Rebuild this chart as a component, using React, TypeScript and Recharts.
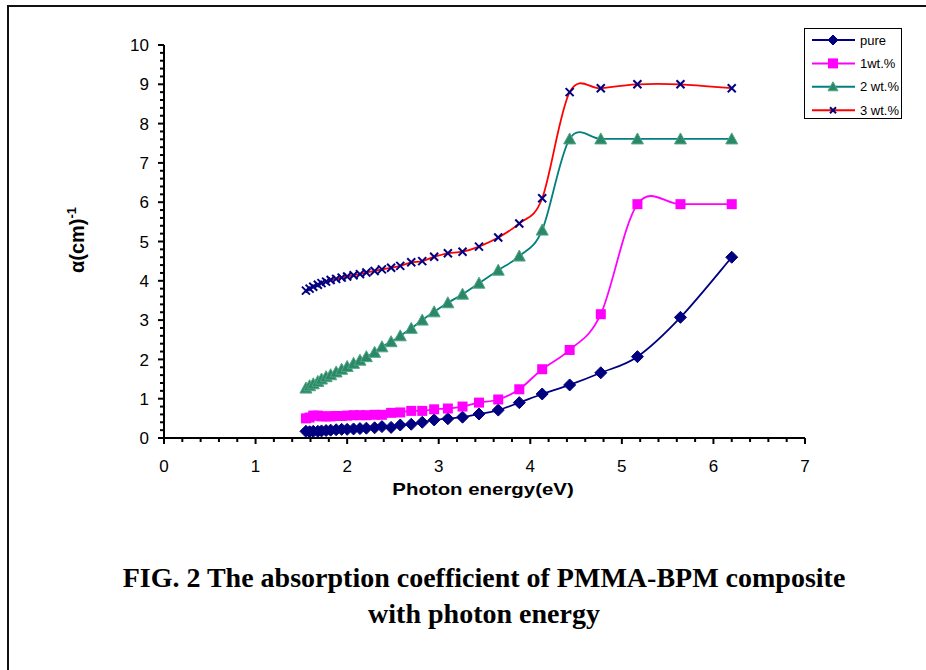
import React from "react";
import { LineChart, Line, XAxis, YAxis, Legend } from "recharts";

// photon energy (eV), one point per wavelength step
const energy = [
  1.55, 1.59, 1.63, 1.68, 1.72, 1.77, 1.82, 1.88, 1.94, 2.0, 2.07, 2.14, 2.21,
  2.3, 2.38, 2.48, 2.58, 2.7, 2.82, 2.95, 3.1, 3.26, 3.44, 3.65, 3.88, 4.13,
  4.43, 4.77, 5.17, 5.64, 6.2,
];

const pure = [
  0.17, 0.16, 0.17, 0.17, 0.18, 0.19, 0.2, 0.21, 0.22, 0.22, 0.23, 0.24, 0.25,
  0.26, 0.29, 0.27, 0.33, 0.35, 0.4, 0.46, 0.49, 0.53, 0.61, 0.71, 0.9, 1.12,
  1.35, 1.66, 2.07, 3.07, 4.6,
];

const wt1 = [
  0.5, 0.52, 0.57, 0.57, 0.55, 0.55, 0.55, 0.56, 0.56, 0.57, 0.58, 0.58, 0.58,
  0.59, 0.59, 0.64, 0.65, 0.69, 0.69, 0.73, 0.75, 0.8, 0.9, 0.98, 1.24, 1.75,
  2.24, 3.15, 5.95, 5.95, 5.95,
];

const wt2 = [
  1.27, 1.33, 1.38, 1.44, 1.5, 1.56, 1.61, 1.68, 1.75, 1.82, 1.9, 1.98, 2.07,
  2.18, 2.32, 2.45, 2.6, 2.79, 3.0, 3.21, 3.44, 3.66, 3.94, 4.27, 4.63, 5.29,
  7.61, 7.61, 7.61, 7.61, 7.61,
];

const wt3 = [
  3.75, 3.8, 3.85, 3.9, 3.94, 3.98, 4.02, 4.05, 4.08, 4.11, 4.14, 4.17, 4.21,
  4.25, 4.29, 4.33, 4.38, 4.47, 4.5, 4.61, 4.7, 4.74, 4.87, 5.1, 5.46, 6.1,
  8.8, 8.9, 9.0, 9.0, 8.9,
];

const seriesNames = ["pure", "1wt.%", "2 wt.%", "3 wt.%"];

const data = energy.map((e, i) => ({
  e,
  pure: pure[i],
  wt1: wt1[i],
  wt2: wt2[i],
  wt3: wt3[i],
}));

// major + minor tick positions (0.2 steps)
const xTicks = Array.from({ length: 36 }, (_, i) => Math.round(i * 2) / 10);
const yTicks = Array.from({ length: 51 }, (_, i) => Math.round(i * 2) / 10);

const FONT = "'Liberation Sans', Arial, sans-serif";
const NAVY = "#000080";
const MAGENTA = "#FF00FF";
const TEAL = "#008080";
const RED = "#FF0000";

// Excel-like smoothed line (cardinal bezier)
const smooth: any = (context: any) => {
  let pts: number[][] = [];
  return {
    areaStart() {},
    areaEnd() {},
    lineStart() {
      pts = [];
    },
    point(x: number, y: number) {
      pts.push([+x, +y]);
    },
    lineEnd() {
      if (!pts.length) return;
      context.moveTo(pts[0][0], pts[0][1]);
      for (let i = 0; i < pts.length - 1; i++) {
        const p0 = pts[i - 1] || pts[i];
        const p1 = pts[i];
        const p2 = pts[i + 1];
        const p3 = pts[i + 2] || p2;
        context.bezierCurveTo(
          p1[0] + (p2[0] - p0[0]) / 6,
          p1[1] + (p2[1] - p0[1]) / 6,
          p2[0] - (p3[0] - p1[0]) / 6,
          p2[1] - (p3[1] - p1[1]) / 6,
          p2[0],
          p2[1]
        );
      }
    },
  };
};

const Diamond = ({ cx, cy, r = 6 }: any) => (
  <polygon
    points={`${cx},${cy - r} ${cx + r},${cy} ${cx},${cy + r} ${cx - r},${cy}`}
    fill={NAVY}
    stroke={NAVY}
  />
);
const Square = ({ cx, cy, r = 5 }: any) => (
  <rect x={cx - r} y={cy - r} width={r * 2} height={r * 2} fill={MAGENTA} />
);
const Triangle = ({ cx, cy, r = 6 }: any) => (
  <polygon
    points={`${cx},${cy - r} ${cx + r},${cy + r - 1} ${cx - r},${cy + r - 1}`}
    fill="#2a8768"
    stroke="#4fa783"
    strokeWidth={1}
  />
);
const Cross = ({ cx, cy, r = 4 }: any) => (
  <g stroke={NAVY} strokeWidth={2}>
    <line x1={cx - r} y1={cy - r} x2={cx + r} y2={cy + r} />
    <line x1={cx - r} y1={cy + r} x2={cx + r} y2={cy - r} />
  </g>
);

const dotFn = (Shape: any) => (p: any) =>
  <Shape key={`d-${p.index}`} cx={p.cx} cy={p.cy} />;

const XTick = ({ x, y, payload }: any) => {
  const v = payload.value;
  const major = Math.abs(v - Math.round(v)) < 1e-6;
  return (
    <g>
      <line x1={x} y1={y} x2={x} y2={y + (major ? 6 : 4)} stroke="#000" strokeWidth={2} />
      {major && (
        <text x={x} y={y + 34} textAnchor="middle" fontSize={17} fontFamily={FONT} fill="#000">
          {Math.round(v)}
        </text>
      )}
    </g>
  );
};

const YTick = ({ x, y, payload }: any) => {
  const v = payload.value;
  const major = Math.abs(v - Math.round(v)) < 1e-6;
  return (
    <g>
      <line x1={x - (major ? 6 : 4)} y1={y} x2={x} y2={y} stroke="#000" strokeWidth={2} />
      {major && (
        <text x={x - 15} y={y} dy="0.36em" textAnchor="end" fontSize={17} fontFamily={FONT} fill="#000">
          {Math.round(v)}
        </text>
      )}
    </g>
  );
};

const legendShapes = [Diamond, Square, Triangle, Cross];
const legendColors = [NAVY, MAGENTA, TEAL, RED];

const renderLegend = () => (
  <div style={{ width: 98, height: 91, border: "1px solid #000", boxSizing: "border-box", background: "#fff" }}>
    <svg width={96} height={89}>
      {seriesNames.map((name, i) => {
        const cy = 11 + i * 23.4;
        const Shape = legendShapes[i];
        return (
          <g key={name}>
            <line x1={7} x2={50} y1={cy} y2={cy} stroke={legendColors[i]} strokeWidth={2} />
            <Shape cx={28} cy={cy} r={i === 3 ? 3 : 5} />
            <text x={55} y={cy} dy="0.36em" fontSize={13} fontFamily={FONT} fill="#000">
              {name}
            </text>
          </g>
        );
      })}
    </svg>
  </div>
);

export default function App() {
  return (
    <div
      style={{
        position: "absolute",
        left: 0,
        top: 0,
        width: 926,
        height: 670,
        overflow: "hidden",
        background: "#fff",
      }}
    >
      <div
        style={{
          position: "absolute",
          left: 7,
          top: 5,
          width: 1000,
          height: 1000,
          border: "2px solid #111",
        }}
      />
      <div style={{ position: "absolute", left: 0, top: 0 }}>
        <LineChart width={926} height={670} data={data} margin={{ top: 45, right: 121, bottom: 0, left: 0 }}>
          <XAxis
            dataKey="e"
            type="number"
            domain={[0, 7]}
            ticks={xTicks}
            interval={0}
            height={232}
            tickSize={0}
            tickMargin={0}
            tickLine={false}
            tick={<XTick />}
            axisLine={{ stroke: "#000", strokeWidth: 2 }}
          />
          <YAxis
            type="number"
            domain={[0, 10]}
            ticks={yTicks}
            interval={0}
            width={164}
            tickSize={0}
            tickMargin={0}
            tickLine={false}
            tick={<YTick />}
            axisLine={{ stroke: "#000", strokeWidth: 2 }}
          />
          <Legend
            layout="horizontal"
            verticalAlign="middle"
            align="center"
            content={renderLegend}
            wrapperStyle={{ left: 804, top: 28, width: 98, height: 91 }}
          />
          <Line dataKey="pure" type={smooth} stroke={NAVY} strokeWidth={1.8} dot={dotFn(Diamond)} activeDot={false} isAnimationActive={false} />
          <Line dataKey="wt1" type={smooth} stroke={MAGENTA} strokeWidth={1.8} dot={dotFn(Square)} activeDot={false} isAnimationActive={false} />
          <Line dataKey="wt2" type={smooth} stroke={TEAL} strokeWidth={1.8} dot={dotFn(Triangle)} activeDot={false} isAnimationActive={false} />
          <Line dataKey="wt3" type={smooth} stroke={RED} strokeWidth={1.8} dot={dotFn(Cross)} activeDot={false} isAnimationActive={false} />
        </LineChart>
      </div>
      <div
        style={{
          position: "absolute",
          left: 77,
          top: 240,
          transform: "translate(-50%, -50%) rotate(-90deg)",
          whiteSpace: "nowrap",
          fontFamily: FONT,
          fontWeight: "bold",
          fontSize: 20,
        }}
      >
        α(cm)<span style={{ fontSize: 13, position: "relative", top: -8 }}>-1</span>
      </div>
      <div
        style={{
          position: "absolute",
          left: 483,
          top: 490,
          transform: "translate(-50%, -50%) scaleX(1.2)",
          whiteSpace: "nowrap",
          fontFamily: FONT,
          fontWeight: "bold",
          fontSize: 17,
        }}
      >
        Photon energy(eV)
      </div>
      <div
        style={{
          position: "absolute",
          left: 0,
          width: 968,
          top: 560,
          textAlign: "center",
          fontFamily: "'Liberation Serif', 'Times New Roman', serif",
          fontWeight: "bold",
          fontSize: 28,
          lineHeight: "36px",
        }}
      >
        FIG. 2 The absorption coefficient of PMMA-BPM composite
        <br />
        with photon energy
      </div>
    </div>
  );
}
